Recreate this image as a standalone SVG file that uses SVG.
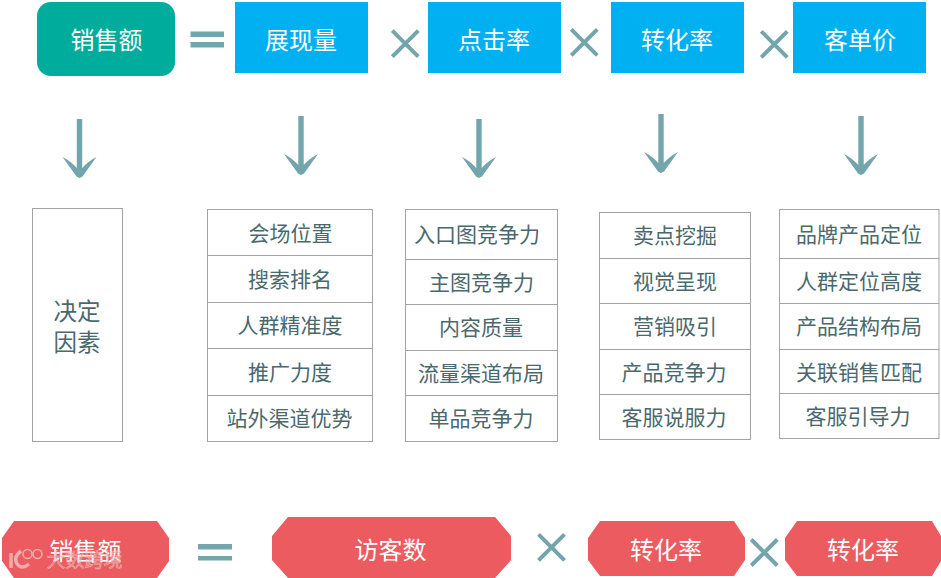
<svg xmlns="http://www.w3.org/2000/svg" width="941" height="578" viewBox="0 0 941 578">
<style>
text{font-family:"Noto Sans CJK SC","Noto Sans",sans-serif;text-anchor:middle}
.w{fill:#fff;font-size:24px}
.t{fill:#4a696d;font-size:21px}
.f{fill:#4a696d;font-size:23.500px}
.c{fill:#fff;stroke:#a3a3a3;stroke-width:1}
.l{stroke:#a3a3a3;stroke-width:1;fill:none}
.b{fill:#00b0f0}
.r{fill:#ec5b5f}
.op{stroke:#72a5ac;stroke-width:4;fill:none}
.a{fill:#72a5ac}
</style>
<defs>
<path id="arrow" d="M-2.700 -59H2.700V-10Q9 -17 17 -21L3 -1.500L0 0L-3 -1.500L-17 -21Q-9 -17 -2.700 -10Z"/>
<path id="x" d="M-13 -13L13 13M13 -13L-13 13"/>
</defs>
<g id="connectors">
<use href="#arrow" class="a" x="79.500" y="178"/>
<use href="#arrow" class="a" x="301" y="175"/>
<use href="#arrow" class="a" x="479" y="178"/>
<use href="#arrow" class="a" x="661" y="173"/>
<use href="#arrow" class="a" x="861" y="175"/>
</g>
<g id="ops">
<path class="a" d="M190.500 31.500H224V37H190.500ZM190.500 42H224V47.500H190.500Z"/>
<use href="#x" class="op" x="405.300" y="43.700"/>
<use href="#x" class="op" x="584.300" y="42.300"/>
<use href="#x" class="op" x="774.300" y="44.300"/>
<path class="a" d="M198 544H232V549.500H198ZM198 556H232V560.500H198Z"/>
<use href="#x" class="op" x="551.500" y="547.300"/>
<use href="#x" class="op" x="764.300" y="552.500"/>
</g>
<g id="n-sales"><rect x="37" y="2" width="138" height="74" rx="14" fill="#00ad9c"/><text class="w" x="106.500" y="49">销售额</text></g>
<g id="n-impressions"><rect class="b" x="235" y="2" width="133" height="71"/><text class="w" x="301" y="49">展现量</text></g>
<g id="n-ctr"><rect class="b" x="428" y="2" width="133" height="71"/><text class="w" x="494" y="49">点击率</text></g>
<g id="n-cvr"><rect class="b" x="611" y="2" width="133" height="71"/><text class="w" x="677" y="49">转化率</text></g>
<g id="n-aov"><rect class="b" x="793" y="2" width="133" height="71"/><text class="w" x="860" y="49">客单价</text></g>
<g id="n-factor"><rect class="c" x="32.500" y="208.500" width="90" height="233"/><text class="f" x="77" y="320">决定</text><text class="f" x="77" y="351">因素</text></g>
<g id="n-list1"><rect class="c" x="207.500" y="209.500" width="165" height="232"/><path class="l" d="M207.500 255.500H372.500M207.500 302.500H372.500M207.500 348.500H372.500M207.500 395.500H372.500"/>
<text class="t" x="290.500" y="241">会场位置</text><text class="t" x="290" y="287">搜索排名</text><text class="t" x="290" y="333">人群精准度</text><text class="t" x="290" y="380">推广力度</text><text class="t" x="289.500" y="426">站外渠道优势</text></g>
<g id="n-list2"><rect class="c" x="405.500" y="209.500" width="152" height="232"/><path class="l" d="M405.500 259.500H557.500M405.500 304.500H557.500M405.500 350.500H557.500M405.500 395.500H557.500"/>
<text class="t" x="477" y="242">入口图竞争力</text><text class="t" x="481.500" y="290">主图竞争力</text><text class="t" x="481" y="335">内容质量</text><text class="t" x="481" y="381">流量渠道布局</text><text class="t" x="481" y="426">单品竞争力</text></g>
<g id="n-list3"><rect class="c" x="599.500" y="212.500" width="151" height="227"/><path class="l" d="M599.500 258.500H750.500M599.500 303.500H750.500M599.500 349.500H750.500M599.500 394.500H750.500"/>
<text class="t" x="675" y="243">卖点挖掘</text><text class="t" x="675" y="289">视觉呈现</text><text class="t" x="675" y="334">营销吸引</text><text class="t" x="674" y="380">产品竞争力</text><text class="t" x="674" y="425">客服说服力</text></g>
<g id="n-list4"><rect class="c" x="779.500" y="209.500" width="159.500" height="229"/><path class="l" d="M779.500 258.500H939M779.500 303.500H939M779.500 349.500H939M779.500 393.500H939"/>
<text class="t" x="859" y="242">品牌产品定位</text><text class="t" x="859" y="289">人群定位高度</text><text class="t" x="859" y="334">产品结构布局</text><text class="t" x="859" y="380">关联销售匹配</text><text class="t" x="858" y="424">客服引导力</text></g>
<g id="n-sales2"><path class="r" d="M14 521H157L169 538V561L157 578H14L2 561V538Z"/><text class="w" x="85.500" y="560">销售额</text></g>
<g id="n-visitors"><path class="r" d="M288 517H495L511 536V560L495 578H288L272 560V536Z"/><text class="w" x="390.500" y="559">访客数</text></g>
<g id="n-cvr2"><path class="r" d="M600 521H734L745 538V560L734 576H600L588 560V538Z"/><text class="w" x="666" y="559">转化率</text></g>
<g id="n-cvr3"><path class="r" d="M797 521H932L941 536V561L932 576H797L785 560V538Z"/><text class="w" x="863" y="559">转化率</text></g>
<g id="watermark" opacity=".65"><text x="84.500" y="567" fill="#d99a9a" stroke="#f6dede" stroke-width=".5" style="font-size:19px">大数跨境</text><path d="M11 553V568M21 551Q13 557 17 564Q22 570 29 564" fill="none" stroke="#f6d6d6" stroke-width="3.500"/><circle cx="27.500" cy="554" r="4.500" fill="none" stroke="#f6d6d6" stroke-width="1.500"/><circle cx="37.500" cy="554" r="4.500" fill="none" stroke="#f6d6d6" stroke-width="1.500"/></g>
</svg>
